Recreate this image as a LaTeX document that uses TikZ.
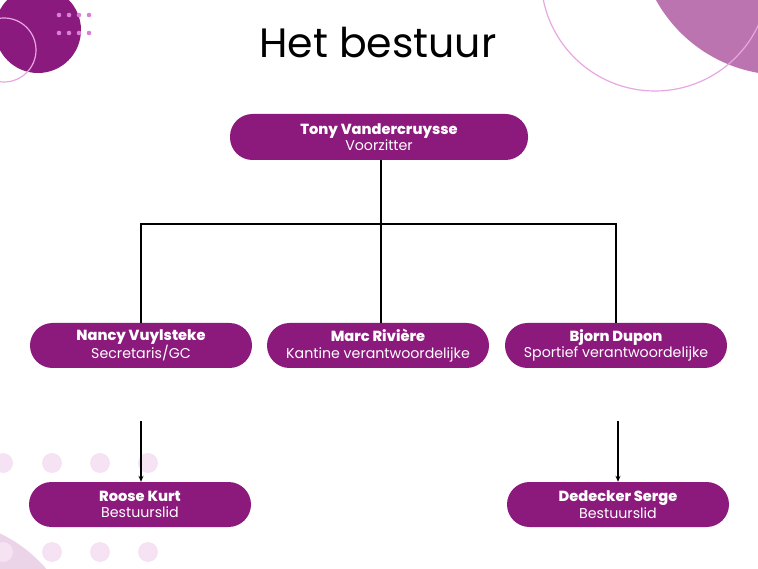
\documentclass[tikz,border=0pt]{standalone}
\usepackage{fontspec}
\setmainfont{Poppins}[BoldFont={Poppins ExtraBold}]
\usetikzlibrary{arrows.meta}
\definecolor{boxpurple}{HTML}{8C1A7C}
\definecolor{darkcirc}{HTML}{8B1A7E}
\definecolor{dotpink}{HTML}{DA7FD8}
\definecolor{ringpink}{HTML}{E8A6E3}
\definecolor{mauve}{HTML}{BC74B0}
\definecolor{palepink}{HTML}{F5E3F3}
\definecolor{paleshape}{HTML}{EBD3E8}
\tikzset{
  person/.style={fill=boxpurple, text=white, rounded corners=22.5pt,
    minimum width=222pt, minimum height=45pt, inner sep=0pt,
    align=center, font=\fontsize{14.2}{16.5}\selectfont},
  link/.style={draw=black, line width=1.3pt},
  arrowlink/.style={link, -{Stealth[length=6pt,width=5pt]}},
  ring/.style={draw=ringpink, line width=1.2pt},
}
\newcommand{\pname}[1]{{\fontsize{14.6}{16.5}\selectfont\bfseries #1}}
\begin{document}
\begin{tikzpicture}[x=1pt,y=-1pt]
\useasboundingbox (0,0) rectangle (758,569);
\begin{scope}
\clip (0,0) rectangle (758,569);
% background decorations
\fill[mauve] (783,-70) circle (145);
\draw[ring] (655,-23) circle (114);
\fill[darkcirc] (38,30) circle (43);
\draw[ring] (4,50) circle (32);
\foreach \x in {59,69,79,89}{
  \foreach \y in {15,33}{
    \fill[dotpink] (\x,\y) circle (2.3);
  }
}
\fill[paleshape] (-60,660) circle (140);
\foreach \x in {3,52,100,148}{
  \foreach \y in {463,552}{
    \fill[palepink] (\x,\y) circle (10);
  }
}
\end{scope}
% title
\node[anchor=base, font=\fontsize{41}{44}\selectfont] (title) at (378,58) {Het bestuur};
% nodes
\node[person, minimum width=298pt, minimum height=46pt] (tony) at (379,137)
  {\pname{Tony Vandercruysse}\\Voorzitter};
\node[person] (nancy) at (141,345.5) {\pname{Nancy Vuylsteke}\\Secretaris/GC};
\node[person] (marc) at (378,345.5) {\pname{Marc Rivière}\\Kantine verantwoordelijke};
\node[person] (bjorn) at (616,345.5) {\pname{Bjorn Dupon}\\Sportief verantwoordelijke};
\node[person] (roose) at (140,504.5) {\pname{Roose Kurt}\\Bestuurslid};
\node[person] (serge) at (618,504.5) {\pname{Dedecker Serge}\\Bestuurslid};
% connectors
\coordinate (bus) at (381,224);
\coordinate (a1) at (141,421);
\coordinate (a2) at (618,421);
\draw[link] (tony.south -| bus) -- (marc.north -| bus);
\draw[link] (nancy.north) |- (bus) -| (bjorn.north);
\draw[arrowlink] (a1) -- (a1 |- roose.north);
\draw[arrowlink] (a2) -- (a2 |- serge.north);
\end{tikzpicture}
\end{document}
